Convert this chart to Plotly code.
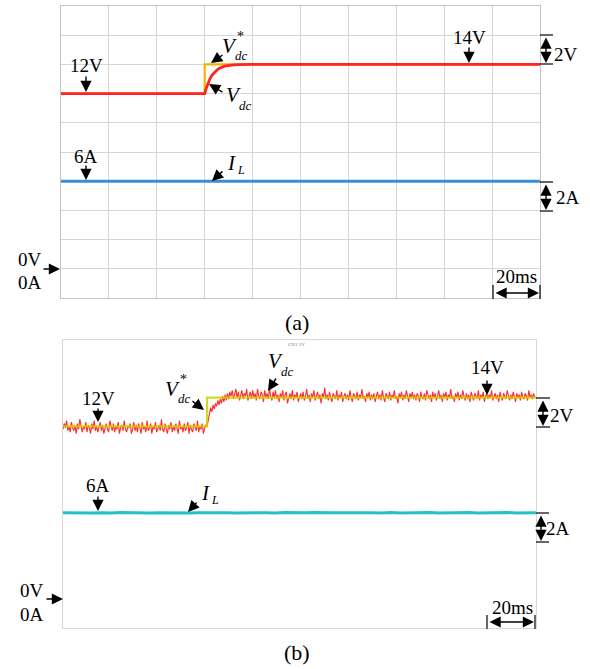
import numpy as np
import plotly.graph_objects as go

W, H = 590, 669

# ---------------- data ----------------
# Panel (a): simulation (ms, V / A)
t_ref_a = [0, 60, 60, 200]
vref_a = [12, 12, 14, 14]
t_vdc_a = [0, 60, 60.5, 61, 61.5, 62, 63, 64, 65, 66, 67, 68, 69, 70, 72, 74, 77, 80, 200]
vdc_a = [12, 12, 12.3, 12.55, 12.77, 12.95, 13.25, 13.45, 13.6, 13.72, 13.8, 13.86, 13.9,
         13.93, 13.97, 13.985, 13.995, 14, 14]
t_il_a = [0, 200]
il_a = [6, 6]

# Panel (b): experiment (ms, V / A), Vdc sampled every 0.5 ms
t_ref_b = [0, 60, 60, 197]
vref_b = [12, 12, 14, 14]
vdc_b = [
    11.8, 12.2, 11.9, 12.4, 11.7, 12.0, 11.6, 12.3, 11.9, 11.7, 12.1, 11.5, 12.2, 11.8, 12.5, 11.9, 11.6, 12.0, 11.8, 12.3,
    11.6, 12.1, 11.9, 11.5, 12.2, 11.8, 12.4, 11.7, 12.0, 11.6, 11.9, 12.3, 11.7, 12.1, 11.5, 11.9, 12.2, 11.8, 11.6, 12.4,
    11.9, 11.7, 12.2, 11.6, 12.0, 11.8, 12.3, 11.5, 11.9, 12.1, 11.7, 12.4, 11.8, 11.6, 12.0, 11.9, 12.2, 11.5, 11.8, 12.3,
    11.7, 12.1, 11.6, 12.2, 11.9, 11.5, 12.3, 11.8, 12.0, 11.6, 12.4, 11.7, 11.9, 12.2, 11.5, 12.0, 11.8, 12.3, 11.6, 11.9,
    12.1, 11.7, 12.5, 11.8, 11.6, 12.2, 11.9, 11.5, 12.1, 11.8, 12.3, 11.6, 12.0, 11.7, 12.2, 11.9, 11.5, 12.4, 11.8, 12.0,
    11.6, 12.2, 11.7, 11.9, 12.3, 11.5, 12.1, 11.8, 11.6, 12.2, 11.9, 11.7, 12.4, 11.6, 12.0, 11.8, 12.2, 11.5, 11.9, 12.1,
    12.0, 12.4, 12.9, 13.3, 13.0, 13.5, 13.2, 13.6, 13.4, 13.8, 13.5, 13.9, 13.6, 14.1, 13.7, 14.2, 13.8, 14.3, 13.9, 14.4,
    14.1, 14.5, 13.9, 14.3, 14.6, 14.0, 14.4, 13.8, 14.2, 14.5, 13.9, 14.3, 14.1, 14.6, 13.8, 14.2, 14.4, 13.9, 14.5, 14.0,
    14.3, 13.8, 14.6, 14.1, 13.9, 14.4, 14.2, 13.7, 14.5, 14.0, 14.3, 13.9, 14.6, 14.1, 13.8, 14.4, 14.0, 14.5, 13.9, 14.2,
    13.7, 14.3, 14.0, 14.5, 13.8, 14.2, 14.4, 13.6, 14.1, 14.3, 13.9, 14.5, 13.8, 14.2, 14.0, 14.4, 13.7, 14.1, 14.3, 13.9,
    14.4, 13.8, 14.1, 14.6, 13.9, 14.2, 13.7, 14.3, 14.0, 14.5, 13.8, 14.1, 14.4, 13.9, 14.2, 13.6, 14.3, 14.0, 14.7, 13.9,
    14.2, 13.8, 14.4, 14.0, 13.7, 14.3, 14.1, 13.9, 14.5, 13.8, 14.2, 14.0, 14.4, 13.7, 14.1, 14.3, 13.9, 14.2, 13.8, 14.5,
    14.0, 13.7, 14.3, 14.1, 13.9, 14.4, 13.8, 14.2, 14.0, 14.6, 13.9, 14.1, 13.7, 14.3, 14.0, 14.4, 13.8, 14.2, 13.9, 14.3,
    13.7, 14.1, 14.4, 13.9, 14.2, 13.8, 14.5, 14.0, 13.7, 14.3, 14.1, 13.9, 14.4, 13.8, 14.2, 14.0, 14.5, 13.9, 14.1, 13.6,
    14.3, 14.0, 14.4, 13.8, 14.2, 13.9, 14.5, 14.1, 13.7, 14.3, 14.0, 14.4, 13.9, 14.2, 13.8, 14.3, 14.1, 13.7, 14.4, 14.0,
    13.9, 14.3, 13.8, 14.5, 14.1, 13.9, 14.2, 13.7, 14.4, 14.0, 14.3, 13.8, 14.1, 14.5, 13.9, 14.2, 13.7, 14.3, 14.0, 14.4,
    13.8, 14.2, 14.0, 14.6, 13.9, 14.1, 13.7, 14.3, 14.0, 14.4, 13.8, 14.2, 13.9, 14.5, 14.1, 13.8, 14.3, 13.9, 14.2, 13.7,
    14.4, 14.0, 13.8, 14.3, 14.1, 13.9, 14.5, 13.8, 14.2, 14.0, 14.4, 13.7, 14.1, 14.3, 13.9, 14.2, 14.0, 14.5, 13.8, 14.1,
    14.3, 13.9, 14.2, 13.7, 14.4, 14.0, 13.8, 14.3, 14.1, 13.9, 14.5, 14.0, 13.8, 14.2, 13.9, 14.4, 14.1, 13.7, 14.3, 14.0,
    14.2, 13.8, 14.4, 14.0, 13.9, 14.3, 14.1, 13.8, 14.5, 14.0, 14.2, 13.9, 14.3, 14.0,
]
t_vdc_b = list(np.arange(len(vdc_b)) * 0.5)
il_b = [
    6.01, 5.99, 6.02, 5.99, 6.01, 5.98, 6.02, 6.00, 6.02, 5.99,
    6.01, 5.99, 6.02, 5.98, 6.01, 6.02, 5.99, 6.01, 5.99, 6.02,
    6.00, 6.01, 5.98, 6.02, 5.99, 6.01, 6.02, 5.99, 6.01, 6.00,
    6.02, 5.99, 6.01, 5.99, 6.02, 5.98, 6.01, 6.00, 6.02, 5.99,
    6.01, 5.99, 6.02, 5.99, 6.01, 6.00, 6.02, 5.98, 6.01, 6.01,
]
t_il_b = list(np.linspace(0, 197, len(il_b)))

# ---------------- figure ----------------
def px(x, y):
    return x / W, 1 - y / H

fig = go.Figure()

fig.add_trace(go.Scatter(x=t_ref_a, y=vref_a, mode="lines",
                         line=dict(color="#f0b400", width=2.2), xaxis="x", yaxis="y"))
fig.add_trace(go.Scatter(x=t_vdc_a, y=vdc_a, mode="lines",
                         line=dict(color="#ff2424", width=2.8), xaxis="x", yaxis="y"))
fig.add_trace(go.Scatter(x=t_il_a, y=il_a, mode="lines",
                         line=dict(color="#3a8ed8", width=3), xaxis="x", yaxis="y"))

fig.add_trace(go.Scatter(x=t_vdc_b, y=vdc_b, mode="lines",
                         line=dict(color="#ff2a2a", width=1.1), xaxis="x2", yaxis="y2"))
fig.add_trace(go.Scatter(x=t_ref_b, y=vref_b, mode="lines",
                         line=dict(color="#d2cf00", width=2.2), opacity=0.85, xaxis="x2", yaxis="y2"))
fig.add_trace(go.Scatter(x=t_il_b, y=il_b, mode="lines",
                         line=dict(color="#22c0c8", width=3), xaxis="x2", yaxis="y2"))

ax_common = dict(showticklabels=False, ticks="", zeroline=False, showline=True, mirror=True, fixedrange=True)
fig.update_layout(
    width=W, height=H, margin=dict(l=0, r=0, t=0, b=0),
    paper_bgcolor="white", plot_bgcolor="white", showlegend=False,
    xaxis=dict(domain=[61 / W, 540 / W], range=[0, 200], dtick=20, showgrid=True,
               gridcolor="#d6d6d6", gridwidth=1, linecolor="#c4c4c4", anchor="y", **ax_common),
    yaxis=dict(domain=[1 - 298 / H, 1 - 6 / H], range=[-2, 18], dtick=2, showgrid=True,
               gridcolor="#d6d6d6", gridwidth=1, linecolor="#c4c4c4", anchor="x", **ax_common),
    xaxis2=dict(domain=[63 / W, 536 / W], range=[0, 197], showgrid=False,
                linecolor="#d8d8d8", anchor="y2", **ax_common),
    yaxis2=dict(domain=[1 - 628 / H, 1 - 340 / H], range=[-2, 18], showgrid=False,
                linecolor="#d8d8d8", anchor="x2", **ax_common),
)

FONT = "Liberation Serif, Times New Roman, serif"
ann = []
shapes = []

def text(x, y, s, size=19, italic=False):
    xp, yp = px(x, y)
    if italic:
        s = "<i>" + s + "</i>"
    ann.append(dict(x=xp, y=yp, xref="paper", yref="paper", text=s, showarrow=False,
                    xanchor="center", yanchor="middle",
                    font=dict(family=FONT, size=size, color="black")))

def arrow(tip, tail, both=False):
    xp, yp = px(*tip)
    ann.append(dict(x=xp, y=yp, xref="paper", yref="paper", text="", showarrow=True,
                    ax=tail[0] - tip[0], ay=tail[1] - tip[1], axref="pixel", ayref="pixel",
                    arrowhead=2, arrowsize=1.6, arrowwidth=1.4, arrowcolor="black",
                    arrowside="end+start" if both else "end", startarrowhead=2,
                    startarrowsize=1.6, standoff=0, startstandoff=0))

def seg(x0, y0, x1, y1):
    a, b = px(x0, y0)
    c, d = px(x1, y1)
    shapes.append(dict(type="line", xref="paper", yref="paper", x0=a, y0=b, x1=c, y1=d,
                       line=dict(color="black", width=1.2)))

def vdc(x, y, star=False):
    text(x, y, "V", 21, True)
    if star:
        text(x + 11, y - 10, "*", 14)
    text(x + 12, y + 10, "dc", 13, True)

def il(x, y):
    text(x, y, "I", 21, True)
    text(x + 10, y + 7, "L", 12, True)

# ---- panel (a) ----
text(86, 66, "12V"); arrow((86, 92), (86, 75))
vdc(229, 46, star=True); arrow((211, 63), (224, 54))
vdc(233, 95); arrow((209, 84), (224, 93))
text(469, 37, "14V"); arrow((469, 63), (469, 46))
seg(540, 35, 553, 35); seg(540, 64, 553, 64); arrow((546, 63), (546, 36), both=True)
text(566, 54, "2V")
text(86, 156, "6A"); arrow((86, 180), (86, 164))
il(231, 163); arrow((212, 181), (224, 170))
seg(540, 182, 553, 182); seg(540, 211, 553, 211); arrow((546, 210), (546, 183), both=True)
text(568, 198, "2A")
text(30, 260, "0V"); text(30, 282, "0A"); arrow((60, 269), (42, 269))
text(516, 277, "20ms")
seg(493, 285, 493, 299); seg(540, 285, 540, 299); arrow((539, 293), (494, 293), both=True)
text(297, 322, "(a)", 22)

# ---- panel (b) ----
text(98, 398, "12V"); arrow((98, 422), (98, 407))
vdc(172, 389, star=True); arrow((204, 410), (191, 400))
vdc(275, 361); arrow((268, 391), (277, 377))
text(487, 367, "14V"); arrow((487, 395), (487, 379))
seg(536, 398, 550, 398); seg(536, 427, 550, 427); arrow((543, 426), (543, 399), both=True)
text(562, 415, "2V")
text(98, 485, "6A"); arrow((98, 511), (98, 495))
il(205, 493); arrow((188, 512), (198, 501))
seg(536, 513, 549, 513); seg(536, 542, 549, 542); arrow((541, 541), (541, 514), both=True)
text(558, 528, "2A")
text(32, 590, "0V"); text(32, 614, "0A"); arrow((63, 599), (45, 599))
text(512, 607, "20ms")
seg(487, 615, 487, 629); seg(535, 615, 535, 629); arrow((534, 622), (488, 622), both=True)
text(297, 652, "(b)", 22)
xp, yp = px(297, 344)
ann.append(dict(x=xp, y=yp, xref="paper", yref="paper", text="CH1 2V", showarrow=False,
                font=dict(family=FONT, size=5, color="#777777")))

fig.update_layout(annotations=ann, shapes=shapes)
fig.write_html("out.html")
